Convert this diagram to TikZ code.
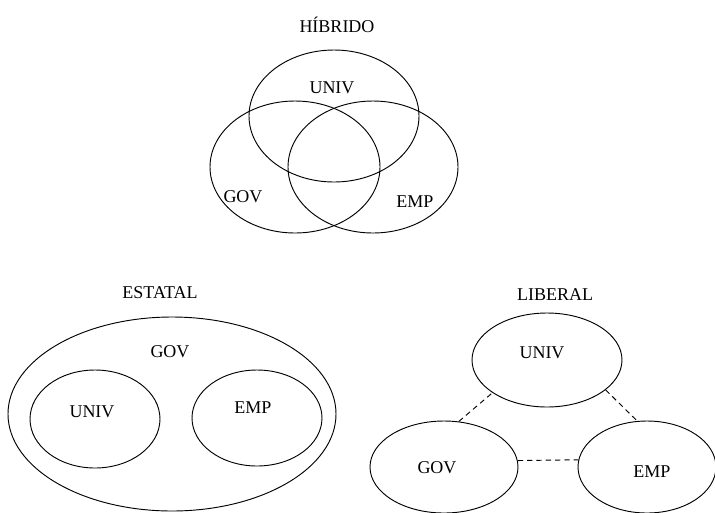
\documentclass[tikz,border=0pt]{standalone}
\usepackage{fontspec}
\setmainfont{Liberation Serif}
\usepackage{tikz}
\usetikzlibrary{shapes.geometric}

\tikzset{
	oval/.style={draw, ellipse, line width=0.7pt, inner sep=0pt},
	venn/.style={oval, minimum width=127.5pt, minimum height=99pt},
	lbl/.style={font=\fontsize{13.5}{16}\selectfont, inner sep=0pt},
	link/.style={dashed, line width=0.7pt, dash pattern=on 4pt off 3pt}
}

\begin{document}
\begin{tikzpicture}[x=0.75pt, y=-0.75pt]
		\useasboundingbox (0, 0) rectangle (715, 512);
		\node[lbl] (hibrido) at (337, 25) {HÍBRIDO};
		\foreach \n/\p in {huniv/{(334, 116)}, hgov/{(295, 167)}, hemp/{(373, 167)}}
			\node[venn] (\n) at \p {};
		\node[lbl] (hunivtxt) at (332, 88) {UNIV};
		\node[lbl] (hgovtxt) at (243, 197) {GOV};
		\node[lbl] (hemptxt) at (415, 202) {EMP};

		\node[lbl] (estatal) at (160, 293) {ESTATAL};
		\node[oval, minimum width=246pt, minimum height=145.5pt] (egov) at (172, 414) {};
		\node[oval, minimum width=97.5pt, minimum height=73.5pt] (euniv) at (95, 419) {};
		\node[oval, minimum width=97.5pt, minimum height=72pt] (eemp) at (257, 418) {};
		\node[lbl] (egovtxt) at (170, 352) {GOV};
		\node[lbl] (eunivtxt) at (92, 412) {UNIV};
		\node[lbl] (eemptxt) at (253, 408) {EMP};

		\node[lbl] (liberal) at (555, 295) {LIBERAL};
		\node[oval, minimum width=112.5pt, minimum height=70.5pt] (luniv) at (547, 360) {};
		\node[oval, minimum width=111pt, minimum height=69pt] (lgov) at (444, 467) {};
		\node[oval, minimum width=103.5pt, minimum height=69pt] (lemp) at (647, 467) {};
		\node[lbl] (lunivtxt) at (542, 353) {UNIV};
		\node[lbl] (lgovtxt) at (437, 468) {GOV};
		\node[lbl] (lemptxt) at (652, 472) {EMP};

		\draw[link] (lgov.72) -- (luniv.211);
		\draw[link] (luniv.333) -- (lemp.102);
		\draw[link] (lgov.5.5) -- (lemp.174);
	\end{tikzpicture}
\end{document}
